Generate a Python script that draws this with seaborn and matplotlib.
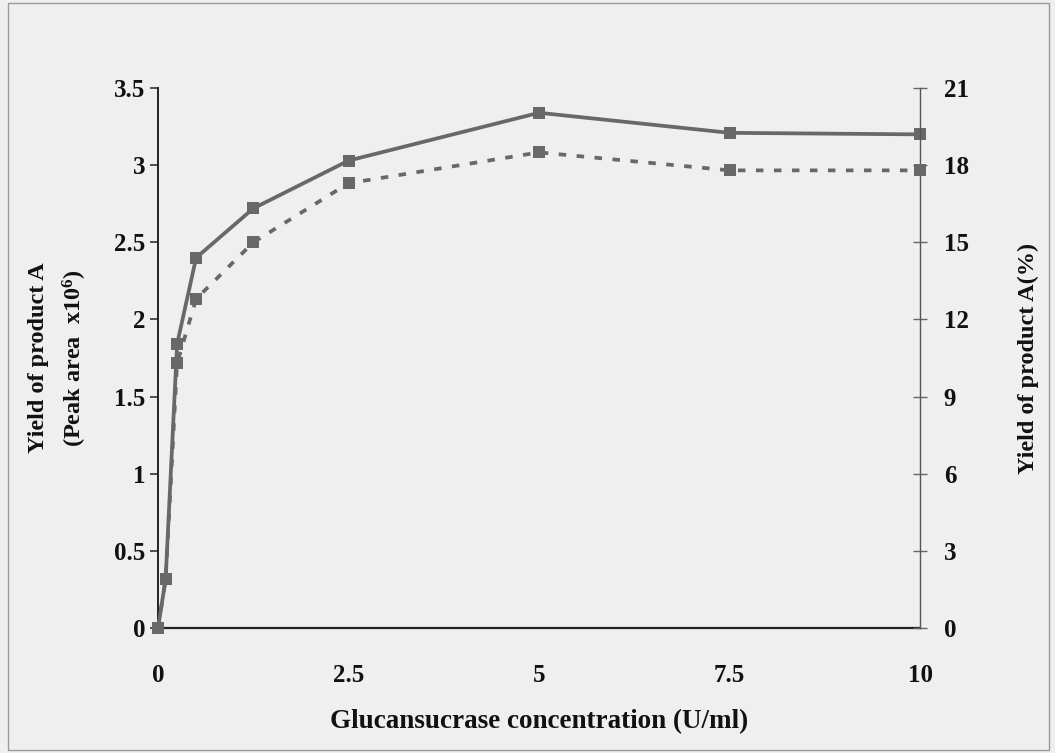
import matplotlib
matplotlib.use("Agg")
import matplotlib.pyplot as plt
from matplotlib.patches import Rectangle
import seaborn as sns
import pandas as pd

# Glucansucrase dose series
concentration = [0, 0.1, 0.25, 0.5, 1.25, 2.5, 5, 7.5, 10]          # U/ml
peak_area = [0, 0.32, 1.84, 2.40, 2.72, 3.03, 3.34, 3.21, 3.20]      # x10^6
yield_pct = [0, 1.9, 10.3, 12.8, 15.0, 17.3, 18.5, 17.8, 17.8]       # %

x_ticks = [0, 2.5, 5, 7.5, 10]
x_tick_labels = ["0", "2.5", "5", "7.5", "10"]
left_ticks = [0, 0.5, 1, 1.5, 2, 2.5, 3, 3.5]
left_tick_labels = ["0", "0.5", "1", "1.5", "2", "2.5", "3", "3.5"]
right_ticks = [0, 3, 6, 9, 12, 15, 18, 21]

df = pd.DataFrame({"conc": concentration, "area": peak_area, "pct": yield_pct})

sns.set_style("white")
plt.rcParams["font.family"] = ["Liberation Serif", "DejaVu Serif"]
plt.rcParams["font.weight"] = "bold"
plt.rcParams["text.color"] = "#111111"
plt.rcParams["axes.labelcolor"] = "#111111"
plt.rcParams["xtick.labelcolor"] = "#111111"
plt.rcParams["ytick.labelcolor"] = "#111111"
plt.rcParams["mathtext.fontset"] = "custom"
plt.rcParams["mathtext.rm"] = "Liberation Serif:bold"
plt.rcParams["mathtext.it"] = "Liberation Serif:bold"
plt.rcParams["mathtext.bf"] = "Liberation Serif:bold"

bg = "#efefef"
line_col = "#686868"
tick_fs = 18
label_fs = 17.5

fig = plt.figure(figsize=(10.55, 7.53), dpi=100, facecolor=bg)
fig.patches.append(Rectangle((0.008, 0.004), 0.986, 0.992, transform=fig.transFigure,
                             fill=False, edgecolor="#9a9a9a", linewidth=1.0))
ax = fig.add_axes([0.1498, 0.166, 0.7223, 0.717])
ax.set_facecolor(bg)
ax2 = ax.twinx()

sns.lineplot(data=df, x="conc", y="area", ax=ax, color=line_col, linewidth=2.7,
             marker="s", markersize=8, markeredgewidth=0, markerfacecolor=line_col,
             clip_on=False, zorder=3)
sns.lineplot(data=df, x="conc", y="pct", ax=ax2, color=line_col, linewidth=2.7,
             linestyle=(0, (2.0, 2.8)), marker="s", markersize=8, markeredgewidth=0,
             markerfacecolor=line_col, clip_on=False, zorder=3)

ax.set_xlim(0, 10)
ax.set_ylim(0, 3.5)
ax2.set_ylim(0, 21)

ax.set_xticks(x_ticks)
ax.set_xticklabels(x_tick_labels)
ax.set_yticks(left_ticks)
ax.set_yticklabels(left_tick_labels)
ax2.set_yticks(right_ticks)

for a in (ax, ax2):
    a.spines["top"].set_visible(False)
ax.spines["right"].set_visible(False)
ax.spines["left"].set_color("#222222")
ax.spines["left"].set_linewidth(1.4)
ax.spines["bottom"].set_color("#222222")
ax.spines["bottom"].set_linewidth(1.6)
ax2.spines["left"].set_visible(False)
ax2.spines["bottom"].set_visible(False)
ax2.spines["right"].set_color("#555555")
ax2.spines["right"].set_linewidth(1.0)

ax.tick_params(axis="x", length=0, pad=26, labelsize=tick_fs)
ax.tick_params(axis="y", direction="out", length=6, width=1.2, color="#333333",
               pad=3, labelsize=tick_fs)
ax2.tick_params(axis="y", direction="inout", length=10, width=1.0, color="#666666",
                pad=12, labelsize=tick_fs)
for lbl in ax.get_xticklabels() + ax.get_yticklabels() + ax2.get_yticklabels():
    lbl.set_fontweight("bold")

ax.set_xlabel("Glucansucrase concentration (U/ml)", fontsize=19.5,
              fontweight="bold", labelpad=16)
ax.set_ylabel("Yield of product A\n(Peak area  x10$^{6}$)", fontsize=label_fs,
              fontweight="bold", labelpad=18, linespacing=1.6)
ax2.set_ylabel("Yield of product A(%)", fontsize=label_fs, fontweight="bold",
               labelpad=35)

fig.savefig("out.png", dpi=100, facecolor=bg)
